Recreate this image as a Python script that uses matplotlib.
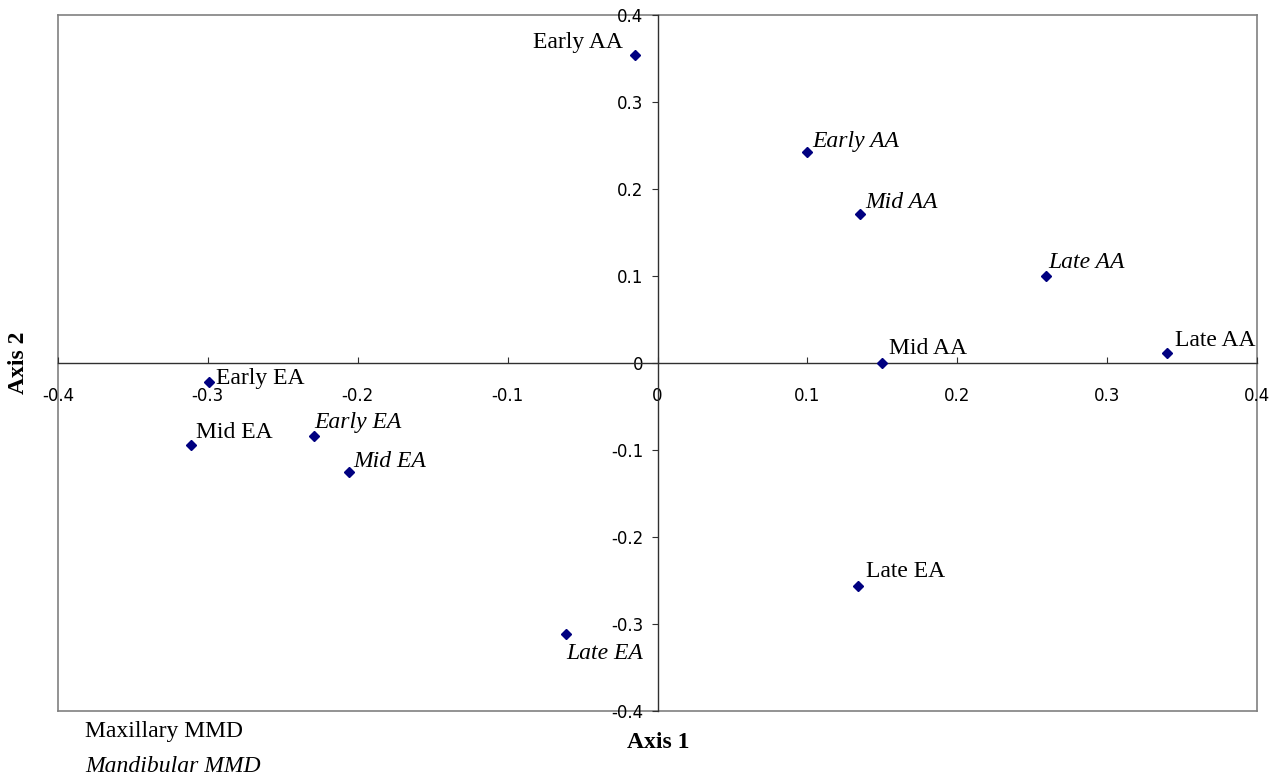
"""
MMD ordination plot: Axis 1 vs Axis 2 for maxillary and mandibular samples.
"""
import matplotlib
matplotlib.use("Agg")
import matplotlib.pyplot as plt

# maxillary MMD (upright labels)
max_labels = ["Early AA", "Mid AA", "Late AA", "Early EA", "Mid EA", "Late EA"]
max_axis1 = [-0.015, 0.150, 0.340, -0.299, -0.311, 0.134]
max_axis2 = [0.354, 0.000, 0.012, -0.022, -0.094, -0.256]

# mandibular MMD (italic labels)
man_labels = ["Early AA", "Mid AA", "Late AA", "Early EA", "Mid EA", "Late EA"]
man_axis1 = [0.100, 0.135, 0.2595, -0.229, -0.206, -0.061]
man_axis2 = [0.2425, 0.171, 0.100, -0.084, -0.125, -0.311]

ticks = [-0.4, -0.3, -0.2, -0.1, 0, 0.1, 0.2, 0.3, 0.4]
tick_labels = ["-0.4", "-0.3", "-0.2", "-0.1", "0", "0.1", "0.2", "0.3", "0.4"]

# label offsets in pixels (dx, dy, ha)
max_offsets = [(-12, 13, "right"), (7, 15, "left"), (8, 12, "left"),
               (7, 4, "left"), (5, 12, "left"), (8, 14, "left")]
man_offsets = [(5, 11, "left"), (5, 12, "left"), (2, 13, "left"),
               (0, 14, "left"), (5, 10, "left"), (0, -20, "left")]

SERIF = "Liberation Serif"
COLOR = "#000080"
PX = 72 / 100  # points per pixel at dpi 100
FS = 17


def main():
    fig = plt.figure(figsize=(12.83, 7.80), dpi=100)
    rect = [58 / 1283, 1 - 711 / 780, 1199 / 1283, 696 / 780]

    frame = fig.add_axes(rect, zorder=0)
    frame.set_xticks([])
    frame.set_yticks([])
    for s in frame.spines.values():
        s.set_color("#808080")
        s.set_linewidth(1.2)

    ax = fig.add_axes(rect, zorder=1)
    ax.patch.set_alpha(0)
    ax.set_xlim(-0.4, 0.4)
    ax.set_ylim(-0.4, 0.4)
    ax.spines["left"].set_position("zero")
    ax.spines["bottom"].set_position("zero")
    ax.spines["top"].set_visible(False)
    ax.spines["right"].set_visible(False)
    for s in ("left", "bottom"):
        ax.spines[s].set_color("#303030")
        ax.spines[s].set_linewidth(1.0)

    ax.set_xticks(ticks)
    ax.set_xticklabels(tick_labels)
    ax.set_yticks(ticks)
    ax.set_yticklabels(tick_labels)
    ax.tick_params(axis="x", direction="in", length=4, pad=17, labelsize=12,
                   color="#303030")
    ax.tick_params(axis="y", direction="out", length=4, pad=6, labelsize=12,
                   color="#303030")

    ax.plot(max_axis1, max_axis2, "D", color=COLOR, ms=5.5, ls="none",
            clip_on=False, zorder=3)
    ax.plot(man_axis1, man_axis2, "D", color=COLOR, ms=5.5, ls="none",
            clip_on=False, zorder=3)

    for lab, x, y, (dx, dy, ha) in zip(max_labels, max_axis1, max_axis2, max_offsets):
        ax.annotate(lab, (x, y), xytext=(dx * PX, dy * PX), textcoords="offset points",
                    ha=ha, va="center", fontsize=FS, family=SERIF)
    for lab, x, y, (dx, dy, ha) in zip(man_labels, man_axis1, man_axis2, man_offsets):
        ax.annotate(lab, (x, y), xytext=(dx * PX, dy * PX), textcoords="offset points",
                    ha=ha, va="center", fontsize=FS, family=SERIF, style="italic")

    fig.text(658 / 1283, 1 - 743 / 780, "Axis 1", ha="center", va="center",
             fontsize=FS, fontweight="bold", family=SERIF)
    fig.text(18 / 1283, 1 - 363 / 780, "Axis 2", ha="center", va="center",
             rotation=90, fontsize=FS, fontweight="bold", family=SERIF)
    fig.text(85 / 1283, 1 - 731 / 780, "Maxillary MMD", ha="left", va="center",
             fontsize=FS, family=SERIF)
    fig.text(85 / 1283, 1 - 767 / 780, "Mandibular MMD", ha="left", va="center",
             fontsize=FS, family=SERIF, style="italic")

    fig.savefig("out.png", dpi=100)


if __name__ == "__main__":
    main()
